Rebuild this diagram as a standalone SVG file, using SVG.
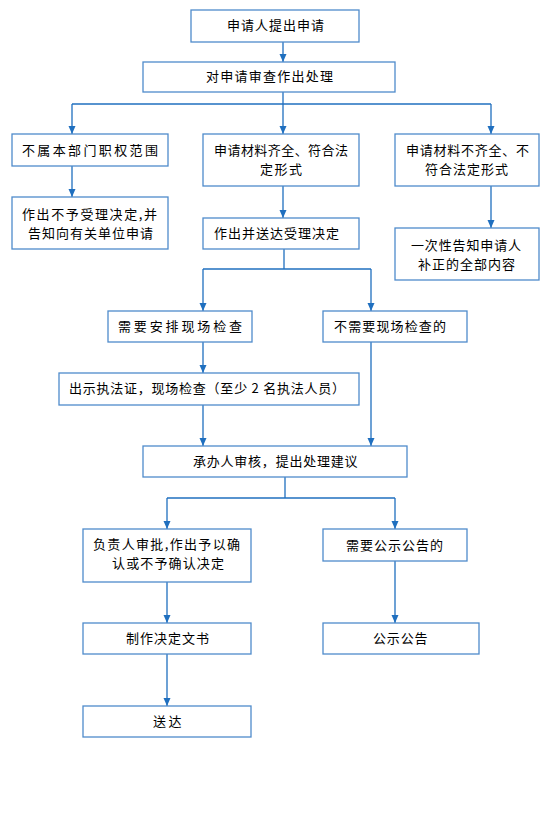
<svg xmlns="http://www.w3.org/2000/svg" width="552" height="832" viewBox="0 0 552 832">
<defs>
<style>
.box{fill:#ffffff;stroke:#4F8BCB;stroke-width:1.3}
.t{font-family:"Noto Sans CJK SC","Noto Sans",sans-serif;font-size:13px;fill:#000000}
.c{fill:none;stroke:#1F6FBF;stroke-width:1.3}
</style>
<marker id="ah" markerUnits="userSpaceOnUse" markerWidth="8" markerHeight="8" viewBox="0 0 8 8" refX="8" refY="4" orient="auto">
<path d="M0,0.5 L8,4 L0,7.5 Z" fill="#1F6FBF"/>
</marker>
</defs>
<rect width="552" height="832" fill="#ffffff"/>
<g id="connectors">
<path class="c" d="M283,42 V62" marker-end="url(#ah)"/>
<path class="c" d="M283,92 V104"/>
<path class="c" d="M72,104 H491"/>
<path class="c" d="M72,104 V134" marker-end="url(#ah)"/>
<path class="c" d="M283,104 V134" marker-end="url(#ah)"/>
<path class="c" d="M491,104 V134" marker-end="url(#ah)"/>
<path class="c" d="M72,166 V197" marker-end="url(#ah)"/>
<path class="c" d="M283,186 V218" marker-end="url(#ah)"/>
<path class="c" d="M491,186 V228" marker-end="url(#ah)"/>
<path class="c" d="M284,249 V269"/>
<path class="c" d="M203,269 H371"/>
<path class="c" d="M203,269 V311" marker-end="url(#ah)"/>
<path class="c" d="M371,269 V311" marker-end="url(#ah)"/>
<path class="c" d="M203,342 V373" marker-end="url(#ah)"/>
<path class="c" d="M203,405 V446" marker-end="url(#ah)"/>
<path class="c" d="M371,342 V446" marker-end="url(#ah)"/>
<path class="c" d="M285,477 V498"/>
<path class="c" d="M167,498 H395"/>
<path class="c" d="M167,498 V529" marker-end="url(#ah)"/>
<path class="c" d="M395,498 V529" marker-end="url(#ah)"/>
<path class="c" d="M167,582 V623" marker-end="url(#ah)"/>
<path class="c" d="M395,561 V623" marker-end="url(#ah)"/>
<path class="c" d="M167,654 V706" marker-end="url(#ah)"/>
</g>
<g id="n1"><rect class="box" x="191" y="10" width="168" height="32"/><text class="t" x="227" y="29.5" textLength="97" lengthAdjust="spacing">申请人提出申请</text></g>
<g id="n2"><rect class="box" x="143" y="62" width="252" height="30"/><text class="t" x="206" y="81" textLength="127" lengthAdjust="spacing">对申请审查作出处理</text></g>
<g id="n3"><rect class="box" x="12" y="134" width="156" height="32"/><text class="t" x="22" y="154.5" textLength="136" lengthAdjust="spacing">不属本部门职权范围</text></g>
<g id="n4"><rect class="box" x="203" y="134" width="156" height="52"/><text class="t" x="214" y="154.5" textLength="134" lengthAdjust="spacing">申请材料齐全、符合法</text><text class="t" x="260" y="173.5" textLength="42" lengthAdjust="spacing">定形式</text></g>
<g id="n5"><rect class="box" x="395" y="134" width="144" height="52"/><text class="t" x="406" y="154.5" textLength="123" lengthAdjust="spacing">申请材料不齐全、不</text><text class="t" x="425" y="173.5" textLength="83" lengthAdjust="spacing">符合法定形式</text></g>
<g id="n6"><rect class="box" x="12" y="197" width="156" height="52"/><text class="t" x="22" y="218.5" textLength="135" lengthAdjust="spacing">作出不予受理决定,并</text><text class="t" x="28" y="237.5" textLength="125" lengthAdjust="spacing">告知向有关单位申请</text></g>
<g id="n7"><rect class="box" x="203" y="218" width="156" height="31"/><text class="t" x="214" y="237.5" textLength="125" lengthAdjust="spacing">作出并送达受理决定</text></g>
<g id="n8"><rect class="box" x="395" y="228" width="144" height="52"/><text class="t" x="411" y="249.5" textLength="110" lengthAdjust="spacing">一次性告知申请人</text><text class="t" x="418" y="268.5" textLength="97" lengthAdjust="spacing">补正的全部内容</text></g>
<g id="n9"><rect class="box" x="108" y="311" width="144" height="31"/><text class="t" x="118" y="331" textLength="124" lengthAdjust="spacing">需要安排现场检查</text></g>
<g id="n10"><rect class="box" x="323" y="311" width="144" height="31"/><text class="t" x="334" y="331" textLength="112" lengthAdjust="spacing">不需要现场检查的</text></g>
<g id="n11"><rect class="box" x="59" y="373" width="300" height="32"/><text class="t" x="69" y="393" textLength="276" lengthAdjust="spacing">出示执法证，现场检查（至少 2 名执法人员）</text></g>
<g id="n12"><rect class="box" x="143" y="446" width="264" height="31"/><text class="t" x="193" y="466" textLength="164.5" lengthAdjust="spacing">承办人审核，提出处理建议</text></g>
<g id="n13"><rect class="box" x="83" y="529" width="168" height="53"/><text class="t" x="93" y="549" textLength="147" lengthAdjust="spacing">负责人审批,作出予以确</text><text class="t" x="112" y="568" textLength="112" lengthAdjust="spacing">认或不予确认决定</text></g>
<g id="n14"><rect class="box" x="323" y="529" width="144" height="32"/><text class="t" x="346" y="550" textLength="97" lengthAdjust="spacing">需要公示公告的</text></g>
<g id="n15"><rect class="box" x="83" y="623" width="168" height="31"/><text class="t" x="126" y="642.5" textLength="83" lengthAdjust="spacing">制作决定文书</text></g>
<g id="n16"><rect class="box" x="323" y="623" width="156" height="31"/><text class="t" x="373" y="642.5" textLength="54.5" lengthAdjust="spacing">公示公告</text></g>
<g id="n17"><rect class="box" x="83" y="706" width="168" height="31"/><text class="t" x="153" y="725.5" textLength="28.5" lengthAdjust="spacing">送达</text></g>
</svg>
